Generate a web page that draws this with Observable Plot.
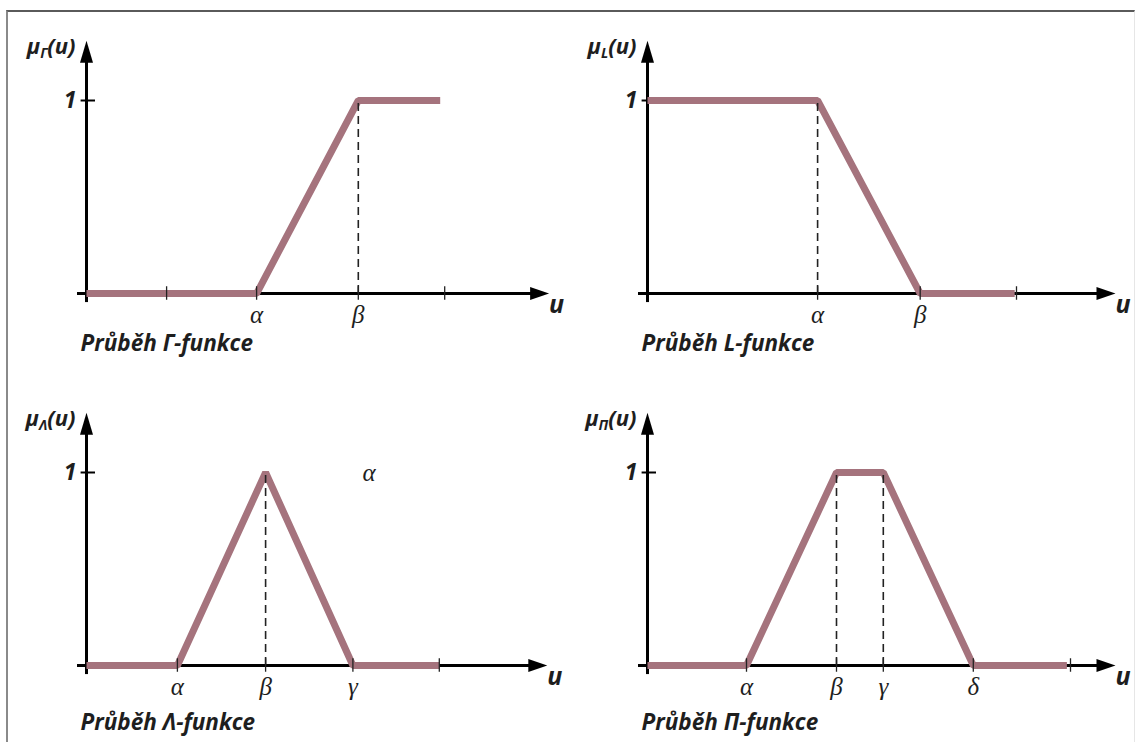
<!DOCTYPE html>
<html>
<head>
<meta charset="utf-8">
<script src="https://cdn.jsdelivr.net/npm/d3@7"></script>
<script src="https://cdn.jsdelivr.net/npm/@observablehq/plot@0.6"></script>
<style>
  html, body { margin: 0; padding: 0; background: #fff; }
  #wrap { position: relative; width: 1135px; height: 742px; overflow: hidden; }
  #frame { position: absolute; left: 6px; top: 10px; width: 1126px; height: 740px;
           border-top: 2px solid #5a5a5a; border-left: 2px solid #8a8a8a; border-right: 1px solid #e6e6e6; }
  .panel { position: absolute; }
  .panel svg { overflow: visible; }
</style>
</head>
<body>
<div id="wrap"><div id="frame"></div></div>
<script>
// ---- data (u in common units, μ in [0,1]) ----
const subscripts = ["Γ", "L", "Λ", "Π"];
const captions = ["Průběh Γ-funkce", "Průběh L-funkce", "Průběh Λ-funkce", "Průběh Π-funkce"];

const gammaU  = [0, 1.89, 3.02, 3.93];
const gammaMu = [0, 0, 1, 1];
const lU      = [0, 1.89, 3.03, 4.08];
const lMu     = [1, 1, 0, 0];
const lambdaU  = [0, 1.01, 1.99, 2.96, 3.92];
const lambdaMu = [0, 0, 1, 0, 0];
const piU  = [0, 1.1, 2.1, 2.62, 3.62, 4.66];
const piMu = [0, 0, 1, 1, 0, 0];

const gammaTicks  = [0.89, 1.89, 3.02, 3.98];
const gammaLabels = ["", "α", "β", ""];
const lTicks      = [1.89, 3.03, 4.1];
const lLabels     = ["α", "β", ""];
const lambdaTicks  = [1.01, 1.99, 2.96, 3.92];
const lambdaLabels = ["α", "β", "γ", ""];
const piTicks  = [1.1, 2.1, 2.62, 3.62, 4.7];
const piLabels = ["α", "β", "γ", "δ", ""];

const gammaDashed  = [3.02];
const lDashed      = [1.89];
const lambdaDashed = [1.99];
const piDashed     = [2.1, 2.62];

const axisEnds = [5.14, 5.2, 5.12, 5.2];
const yAxisTop = 1.31;
const strayLabelU = [3.14];
const strayLabelText = ["α"];

// ---- layout ----
const PINK = "#a5737d";
const SANS = "'Open Sans', 'Noto Sans', sans-serif";
const SERIF = "'Liberation Serif', 'DejaVu Serif', serif";
const INK = "#1e1e1e";

const panels = [
  {u: gammaU,  mu: gammaMu,  ticks: gammaTicks,  labels: gammaLabels,  dashed: gammaDashed,  left: 0,   top: 0,   h: 372, capDy: 50},
  {u: lU,      mu: lMu,      ticks: lTicks,      labels: lLabels,      dashed: lDashed,      left: 561, top: 0,   h: 372, capDy: 50},
  {u: lambdaU, mu: lambdaMu, ticks: lambdaTicks, labels: lambdaLabels, dashed: lambdaDashed, left: 0,   top: 372, h: 370, capDy: 57},
  {u: piU,     mu: piMu,     ticks: piTicks,     labels: piLabels,     dashed: piDashed,     left: 561, top: 372, h: 370, capDy: 57}
];

const arrowHead = {
  draw(context, l, r) {
    context.moveTo(0, -l);
    context.lineTo(-r, 0);
    context.lineTo(r, 0);
    context.closePath();
  }
};

panels.forEach((p, i) => {
  const pts = p.u.map((u, k) => ({u, mu: p.mu[k]}));
  const ticks = p.ticks.map((u, k) => ({u, label: p.labels[k]}));
  const end = axisEnds[i];
  const marks = [
    // axes
    Plot.ruleY([0], {x1: -0.1, x2: end - 0.1, stroke: "black", strokeWidth: 3}),
    Plot.ruleX([0], {y1: -0.047, y2: yAxisTop - 0.06, stroke: "black", strokeWidth: 3}),
    Plot.vector([end], {x: d => d, y: 0, length: 19, r: 6.5, rotate: 90, anchor: "end", shape: arrowHead, fill: "black", stroke: "none"}),
    Plot.vector([yAxisTop], {x: 0, y: d => d, length: 22, r: 6.5, rotate: 0, anchor: "end", shape: arrowHead, fill: "black", stroke: "none"}),
    Plot.ruleY([1], {x1: -0.06, x2: 0.1, stroke: "black", strokeWidth: 2}),
    // membership function
    Plot.line(pts, {x: "u", y: "mu", stroke: PINK, strokeWidth: 7, strokeLinecap: "butt", strokeLinejoin: "miter"}),
    // ticks on u axis
    Plot.ruleX(ticks, {x: "u", y1: -0.035, y2: 0.035, stroke: "#222", strokeWidth: 1.3}),
    // dashed guides
    Plot.ruleX(p.dashed, {x: d => d, y1: 0, y2: 1, stroke: "#222", strokeWidth: 1.6, strokeDasharray: "8,5"}),
    // tick labels
    Plot.text(ticks.filter(d => d.label), {x: "u", y: 0, text: "label", dy: 21, fontFamily: SERIF, fontStyle: "italic", fontSize: 25, fill: INK}),
    // "1"
    Plot.text([1], {x: 0, y: d => d, text: d => String(d), dx: -10, textAnchor: "end", fontFamily: SANS, fontWeight: "bold", fontStyle: "italic", fontSize: 23, fill: INK}),
    // "u"
    Plot.text(["u"], {x: end, y: 0, text: d => d, dx: 0, dy: 11, textAnchor: "start", fontFamily: SANS, fontWeight: "bold", fontStyle: "italic", fontSize: 25, fill: INK}),
    // μ label
    Plot.text([`μ${subscripts[i]}(u)`], {x: 0, y: yAxisTop, text: d => d, dx: -11, dy: 6, textAnchor: "end", fontFamily: SANS, fontWeight: "bold", fontStyle: "italic", fontSize: 22, fill: INK}),
    // caption
    Plot.text([captions[i]], {x: 0, y: 0, text: d => d, dx: -6, dy: p.capDy, textAnchor: "start", fontFamily: SANS, fontWeight: "bold", fontStyle: "italic", fontSize: 22.5, fill: INK})
  ];
  if (i === 2) {
    marks.push(Plot.text(strayLabelU, {x: d => d, y: 1, text: (d, k) => strayLabelText[k], fontFamily: SERIF, fontStyle: "italic", fontSize: 25, fill: INK}));
  }
  const svg = Plot.plot({
    width: 561,
    height: p.h,
    margin: 0,
    x: {domain: [0, 5.2], range: [86, 554], axis: null},
    y: {domain: [0, 1], range: [293, 100], axis: null},
    style: {background: "transparent", overflow: "visible"},
    marks
  });
  // subscript for the μ labels
  d3.select(svg).selectAll("text").each(function() {
    const t = this.textContent;
    if (t.startsWith("μ") && t.endsWith("(u)")) {
      const sub = t.slice(1, t.length - 3);
      const sel = d3.select(this);
      sel.text(null);
      sel.append("tspan").text("μ");
      sel.append("tspan").attr("font-size", 14).attr("dy", 4).text(sub);
      sel.append("tspan").attr("dy", -4).text("(u)");
    }
  });
  const div = document.createElement("div");
  div.className = "panel";
  div.style.left = p.left + "px";
  div.style.top = p.top + "px";
  div.appendChild(svg);
  document.getElementById("wrap").appendChild(div);
});
</script>
</body>
</html>
